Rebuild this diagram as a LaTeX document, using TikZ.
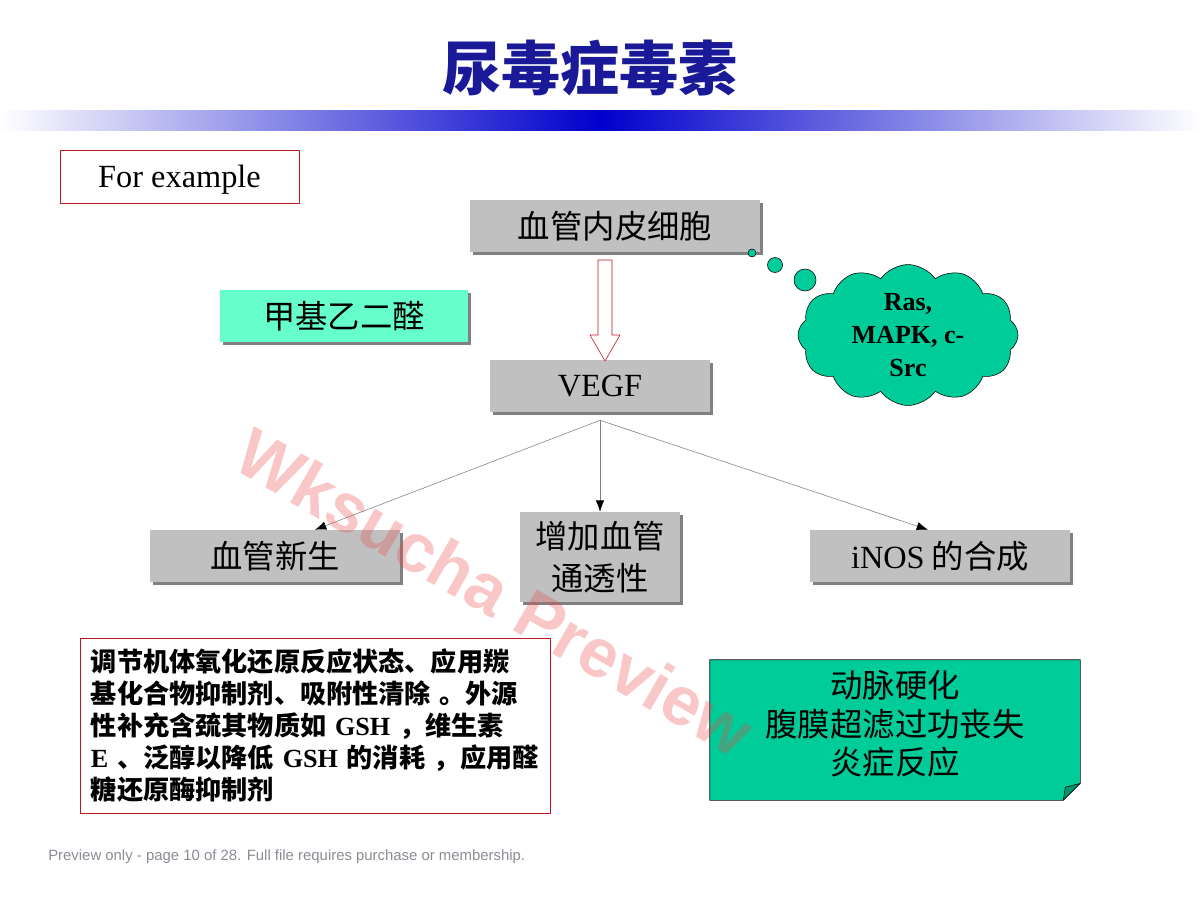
\documentclass[tikz,border=0pt]{standalone}
\usepackage{fontspec}
\setmainfont{Liberation Serif}
\setsansfont{Liberation Sans}
\newfontfamily\cjk{Noto Sans CJK SC}
\usetikzlibrary{shapes.symbols,shadows,arrows.meta}
\definecolor{titleblue}{RGB}{26,26,153}
\definecolor{barblue}{RGB}{0,0,204}
\definecolor{boxgray}{RGB}{192,192,192}
\definecolor{shadowgray}{RGB}{128,128,128}
\definecolor{lightgreen}{RGB}{102,255,204}
\definecolor{cloudgreen}{RGB}{0,204,153}
\definecolor{foldgreen}{RGB}{0,150,110}
\definecolor{boxred}{RGB}{192,20,30}
\definecolor{footgray}{RGB}{136,140,148}
\definecolor{wmred}{RGB}{235,70,70}
\def\px{0.025cm}
\newcommand\lat[1]{{\rmfamily #1}}
\tikzset{
	graybox/.style={fill=boxgray, inner sep=0pt, align=center,
		font=\cjk\fontsize{23}{29}\selectfont,
		drop shadow={shadow xshift=3*\px, shadow yshift=-3*\px, fill=shadowgray, opacity=1}},
	greenbox/.style={graybox, fill=lightgreen},
	bubble/.style={circle, draw, fill=cloudgreen, inner sep=0pt},
	branch/.style={draw=gray, line width=0.4pt, -{Latex[length=8pt,width=6pt,color=black]}}
}
\begin{document}
\begin{tikzpicture}[x=0.025cm, y=-0.025cm, line join=round]
	\useasboundingbox (0,0) rectangle (1200,900);

	% tiêu đề
	\node[font=\cjk\bfseries\fontsize{42}{50}\selectfont, text=titleblue] (title) at (590,68) {尿毒症毒素};
	\shade[left color=white, right color=barblue] (0,110) rectangle (600,130);
	\shade[left color=barblue, right color=white] (600,110) rectangle (1200,130);

	\node[draw=boxred, minimum width=239*\px, minimum height=53*\px, text depth=0pt, font=\fontsize{23}{28}\selectfont] (ex) at (179.5,176.5) {For example};

	\node[graybox, minimum width=290*\px, minimum height=52*\px] (ec) at (615,226) {血管内皮细胞};
	\node[greenbox, minimum width=248*\px, minimum height=52*\px] (mg) at (344,316) {甲基乙二醛};
	\node[graybox, minimum width=220*\px, minimum height=52*\px, font=\rmfamily\fontsize{23}{28}\selectfont] (vegf) at (600,386) {VEGF};

	\node[graybox, minimum width=250*\px, minimum height=52*\px] (ng) at (275,556) {血管新生};
	\node[graybox, minimum width=160*\px, minimum height=90*\px, font=\cjk\fontsize{23}{29.5}\selectfont] (perm) at (600,557) {增加血管\\通透性};
	\node[graybox, minimum width=260*\px, minimum height=52*\px] (inos) at (940,556) {\lat{iNOS} 的合成};

	% đám mây
	\node[bubble, minimum size=8*\px] (b1) at (752,253) {};
	\node[bubble, minimum size=15*\px] (b2) at (775,265) {};
	\node[bubble, minimum size=22*\px] (b3) at (805,280) {};
	\node[cloud, cloud puffs=12, cloud puff arc=110, aspect=1.7, draw, fill=cloudgreen, inner sep=0pt,
		minimum width=220*\px, minimum height=130*\px, align=center,
		font=\bfseries\fontsize{18.5}{23.5}\selectfont] (sig) at (908,335) {Ras,\\MAPK, c-\\Src};

	% mũi tên rỗng
	\coordinate (atop) at (605,260);
	\draw[boxred, fill=white] ([xshift=-7*\px]atop) -- ([xshift=7*\px]atop) -- ++(0,75) -- ++(8,0)
		-- (605,361) -- (590,335) -- (598,335) -- cycle;

	\coordinate (fork) at ([yshift=-8*\px]vegf.south);
	\draw[branch] (fork) -- ([xshift=40*\px]ng.north);
	\draw[branch] (fork) -- (perm.north);
	\draw[branch] (fork) -- ([xshift=-12*\px]inos.north);

	\node[draw=boxred, fill=white, minimum width=470*\px, minimum height=175*\px, text width=11.2cm,
		inner sep=0pt, align=left, font=\cjk\bfseries\fontsize{18.6}{22.7}\selectfont] (cure) at (315,725.5)
		{调节机体氧化还原反应状态、应用羰\\基化合物抑制剂、吸附性清除~。外源\\性补充含巯其物质如~\lat{GSH}~，维生素\\\lat{E}~、泛醇以降低~\lat{GSH}~的消耗~，应用醛\\糖还原酶抑制剂};

	% ghi chú góc gấp
	\node[fill=cloudgreen, minimum width=370*\px, minimum height=140*\px, inner sep=0pt] (res) at (895,730) {};
	\fill[white] ([xshift=-17*\px]res.south east) -- (res.south east) -- ([yshift=17*\px]res.south east) -- cycle;
	\draw (res.north west) -- (res.north east) -- ([yshift=17*\px]res.south east)
		-- ([xshift=-17*\px]res.south east) -- (res.south west) -- cycle;
	\draw[fill=foldgreen] ([xshift=-17*\px]res.south east) -- ([yshift=17*\px]res.south east) -- ([shift={(-15*\px,13*\px)}]res.south east) -- cycle;
	\node[align=center, font=\cjk\fontsize{23}{27.5}\selectfont] (restxt) at ([yshift=6*\px]res.center) {动脉硬化\\腹膜超滤过功丧失\\炎症反应};

	\node[anchor=west, inner sep=0pt, font=\sffamily\fontsize{10.6}{13}\selectfont, text=footgray] (foot) at (48,857)
		{Preview only - page 10 of 28. Full file requires purchase or membership.};

	\node[rotate=-30, font=\sffamily\bfseries\fontsize{49}{58}\selectfont, text=wmred, opacity=0.3] (wm) at (495,592) {Wksucha Preview};
\end{tikzpicture}
\end{document}
